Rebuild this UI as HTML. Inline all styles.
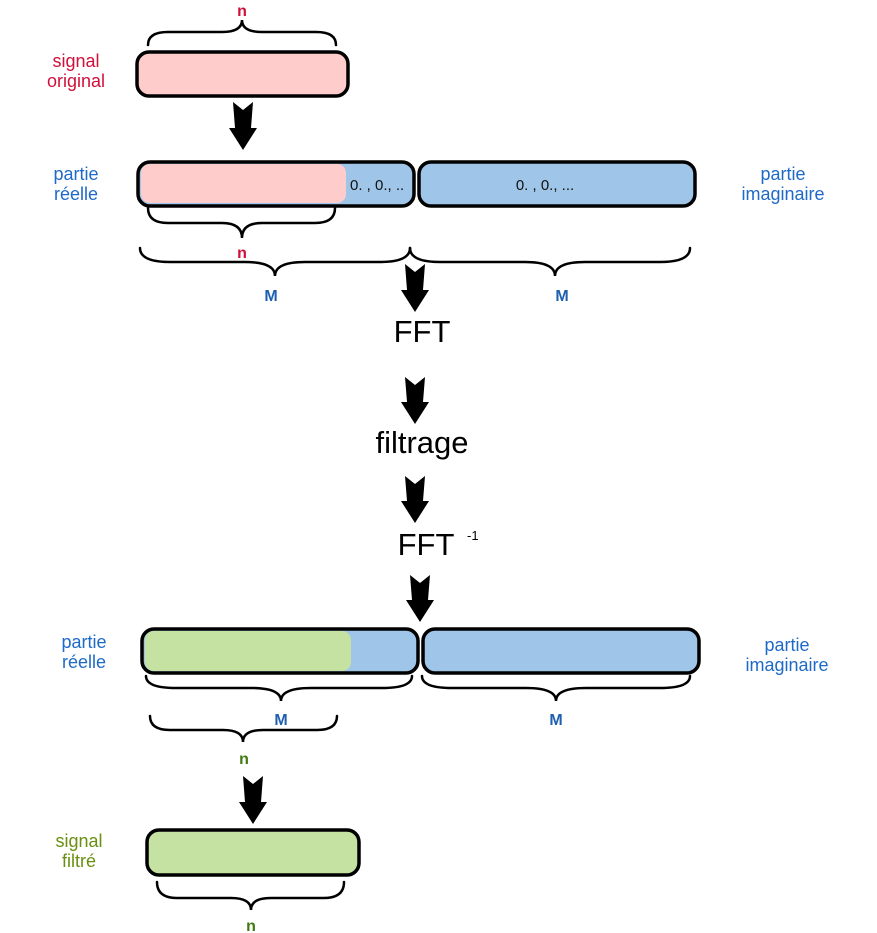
<!DOCTYPE html>
<html><head><meta charset="utf-8"><style>
html,body{margin:0;padding:0;background:#fff;}
svg{display:block;}
text{font-family:"Liberation Sans",sans-serif;}
</style></head><body>
<svg width="877" height="933" viewBox="0 0 877 933" xmlns="http://www.w3.org/2000/svg">
<g fill="none" stroke="#000" stroke-width="2.5" stroke-linecap="round">
<path d="M148,45 Q148,32 168,32 L222,32 Q242,32 242,20 Q242,32 262,32 L316,32 Q336,32 336,45"/>
<path d="M148,208 Q148,223 168,223 L222,223 Q242,223 242,238 Q242,223 262,223 L315,223 Q335,223 335,208"/>
<path d="M140,248 Q140,262 170,262 L245,262 Q275,262 275,276 Q275,262 305,262 L380,262 Q410,262 410,248"/>
<path d="M410,248 Q410,262 440,262 L525,262 Q555,262 555,276 Q555,262 585,262 L660,262 Q690,262 690,248"/>
<path d="M146,676 Q146,688 176,688 L251,688 Q281,688 281,701 Q281,688 311,688 L382,688 Q412,688 412,676"/>
<path d="M422,676 Q422,688 452,688 L526,688 Q556,688 556,701 Q556,688 586,688 L660,688 Q690,688 690,676"/>
<path d="M150,716 Q150,730 170,730 L223,730 Q243,730 243,742 Q243,730 263,730 L317,730 Q337,730 337,716"/>
<path d="M157,882 Q157,898 177,898 L231,898 Q251,898 251,910 Q251,898 271,898 L324,898 Q344,898 344,882"/>
</g>
<!-- boxes -->
<rect x="137" y="52" width="211" height="44" rx="12" fill="#ffcccc" stroke="#000" stroke-width="3.5"/>
<rect x="138" y="162" width="276" height="44" rx="12" fill="#9fc5e8" stroke="#000" stroke-width="3.5"/>
<rect x="141" y="164" width="205" height="39" rx="9" fill="#ffcccc"/>
<rect x="419" y="162" width="276" height="44" rx="12" fill="#9fc5e8" stroke="#000" stroke-width="3.5"/>
<rect x="142" y="629" width="276" height="44" rx="12" fill="#9fc5e8" stroke="#000" stroke-width="3.5"/>
<rect x="145" y="631" width="206" height="40" rx="9" fill="#c5e2a3"/>
<rect x="423" y="629" width="276" height="44" rx="12" fill="#9fc5e8" stroke="#000" stroke-width="3.5"/>
<rect x="147" y="830" width="212" height="45" rx="12" fill="#c5e2a3" stroke="#000" stroke-width="3.5"/>
<!-- arrows -->
<g fill="#000">
<polygon points="233,102 243,110 253,102 251,128 257,128 243,150 229,128 235,128"/>
<polygon points="405,264 415,272 425,264 423,290 429,290 415,312 401,290 407,290"/>
<polygon points="405,377 415,385 425,377 423,402 429,402 415,424 401,402 407,402"/>
<polygon points="405,476 415,484 425,476 423,501 429,501 415,523 401,501 407,501"/>
<polygon points="410,575 420,583 430,575 428,600 434,600 420,622 406,600 412,600"/>
<polygon points="243,776 253,784 263,776 261,802 267,802 253,824 239,802 245,802"/>
</g>
<!-- text -->
<g font-size="18" text-anchor="middle">
<text x="76" y="67" fill="#d0103a">signal</text>
<text x="76" y="87" fill="#d0103a">original</text>
<text x="76" y="180" fill="#1e6ac8">partie</text>
<text x="76" y="200" fill="#1e6ac8">réelle</text>
<text x="783" y="180" fill="#1e6ac8">partie</text>
<text x="783" y="200" fill="#1e6ac8">imaginaire</text>
<text x="84" y="648" fill="#1e6ac8">partie</text>
<text x="84" y="668" fill="#1e6ac8">réelle</text>
<text x="787" y="651" fill="#1e6ac8">partie</text>
<text x="787" y="671" fill="#1e6ac8">imaginaire</text>
<text x="79" y="847" fill="#6a8f10">signal</text>
<text x="79" y="867" fill="#6a8f10">filtré</text>
</g>
<g font-size="16" font-weight="bold" text-anchor="middle">
<text x="242" y="16" fill="#d0103a">n</text>
<text x="242" y="258" fill="#d0103a">n</text>
<text x="271" y="301" fill="#1e5fb0">M</text>
<text x="562" y="301" fill="#1e5fb0">M</text>
<text x="281" y="725" fill="#1e5fb0">M</text>
<text x="556" y="725" fill="#1e5fb0">M</text>
<text x="244" y="764" fill="#3f7a10">n</text>
<text x="251" y="931" fill="#3f7a10">n</text>
</g>
<text x="350" y="190" font-size="15" fill="#111">0. , 0., ..</text>
<text x="545" y="190" font-size="15" fill="#111" text-anchor="middle">0. , 0., ...</text>
<g font-size="31" fill="#000" text-anchor="middle">
<text x="422" y="342">FFT</text>
<text x="422" y="453">filtrage</text>
<text x="426" y="555">FFT</text>
</g>
<text x="467" y="540" font-size="13" fill="#000">-1</text>
</svg>
</body></html>
